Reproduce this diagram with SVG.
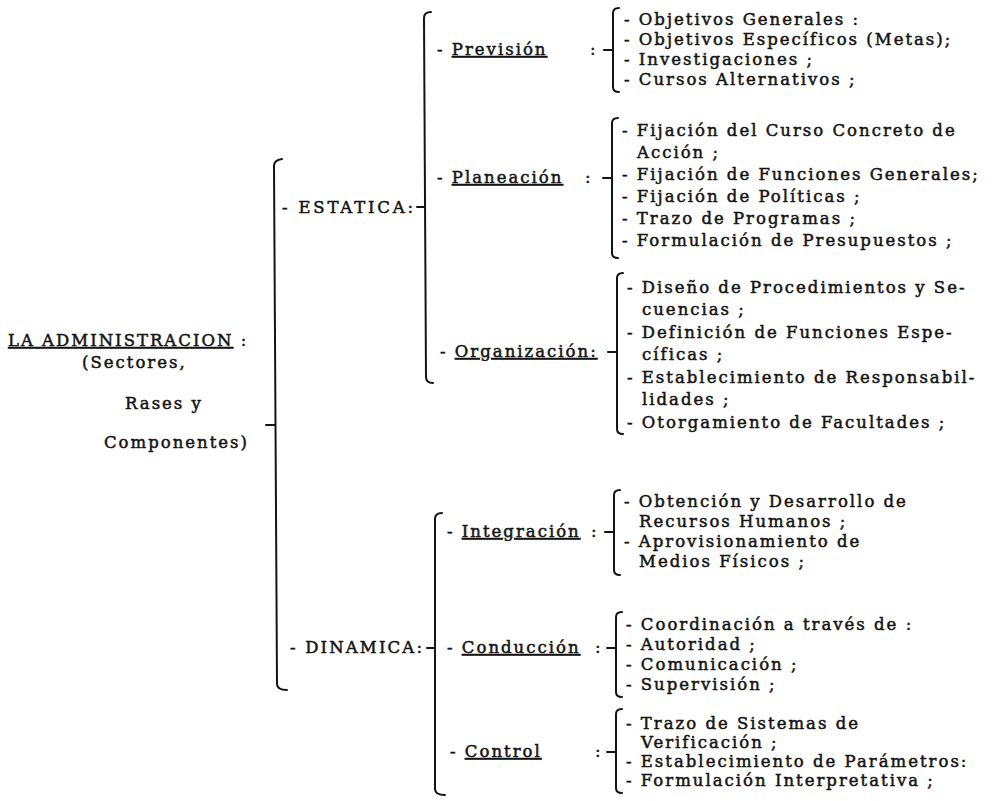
<svg xmlns="http://www.w3.org/2000/svg" width="998" height="801" viewBox="0 0 998 801">
<style>
.t{font-family:"DejaVu Serif",serif;font-size:16.5px;letter-spacing:2px;fill:#141414;stroke:#141414;stroke-width:0.5px}
.u{text-decoration:underline;text-decoration-thickness:1.6px;text-underline-offset:3px}
.b{fill:none;stroke:#141414;stroke-width:2;stroke-linecap:round;stroke-linejoin:round}
</style>
<rect width="998" height="801" fill="#ffffff"/>
<g id="connectors">
<path class="b" d="M282,159 Q274,160 274,166 L277,684 Q277,690 287,690 M275,425 L266,425"/>
<path class="b" d="M431,12 Q424,12 424,18 L426,377 Q426,383 433,383 M425,207 L417,207"/>
<path class="b" d="M442,513 Q435,513 435,519 L435,789 Q435,795 445,795 M435,648 L427,648"/>
<path class="b" d="M619,8 Q613,8 613,13 L613,87 Q613,92 619,92 M613,50 L604,50"/>
<path class="b" d="M618,118 Q612,118 612,123 L612,253 Q612,258 618,258 M612,178 L603,178"/>
<path class="b" d="M623,273 Q617,273 617,278 L617,429 Q617,434 623,434 M617,352 L608,352"/>
<path class="b" d="M620,490 Q614,490 614,495 L614,570 Q614,575 620,575 M614,532 L605,532"/>
<path class="b" d="M622,612 Q616,612 616,617 L616,692 Q616,697 622,697 M616,648 L607,648"/>
<path class="b" d="M622,709 Q616,709 616,714 L616,788 Q616,793 622,793 M616,752 L607,752"/>
</g>
<g id="administracion">
<text class="t" x="8" y="346"><tspan class="u">LA ADMINISTRACION</tspan> :</text>
<text class="t" x="82" y="368">(Sectores,</text>
<text class="t" x="125" y="409">Rases  y</text>
<text class="t" x="104" y="448">Componentes)</text>
</g>
<g id="estatica">
<text class="t" x="282" y="213" textLength="133" lengthAdjust="spacing">- ESTATICA:</text>
</g>
<g id="dinamica">
<text class="t" x="290" y="653" textLength="134" lengthAdjust="spacing">- DINAMICA:</text>
</g>
<g id="prevision">
<text class="t" x="437" y="55">- <tspan class="u">Previsión</tspan></text>
<text class="t" x="590" y="55">:</text>
<text class="t" x="624" y="25">- Objetivos Generales :</text>
<text class="t" x="624" y="45">- Objetivos  Específicos (Metas);</text>
<text class="t" x="624" y="65">- Investigaciones ;</text>
<text class="t" x="624" y="85">- Cursos Alternativos ;</text>
</g>
<g id="planeacion">
<text class="t" x="437" y="183">- <tspan class="u">Planeación</tspan></text>
<text class="t" x="585" y="183">:</text>
<text class="t" x="622" y="136">- Fijación del Curso Concreto de</text>
<text class="t" x="637" y="158">Acción ;</text>
<text class="t" x="622" y="180">- Fijación de Funciones Generales;</text>
<text class="t" x="622" y="202">- Fijación de Políticas ;</text>
<text class="t" x="622" y="224">- Trazo de Programas ;</text>
<text class="t" x="622" y="246">- Formulación de Presupuestos ;</text>
</g>
<g id="organizacion">
<text class="t" x="440" y="357">- <tspan class="u">Organización:</tspan></text>
<text class="t" x="627" y="293">- Diseño de Procedimientos y Se-</text>
<text class="t" x="642" y="315">cuencias ;</text>
<text class="t" x="627" y="338">- Definición de Funciones Espe-</text>
<text class="t" x="642" y="360">cíficas ;</text>
<text class="t" x="627" y="383">- Establecimiento de Responsabil-</text>
<text class="t" x="642" y="405">lidades ;</text>
<text class="t" x="627" y="428">- Otorgamiento de Facultades ;</text>
</g>
<g id="integracion">
<text class="t" x="447" y="537">- <tspan class="u">Integración</tspan></text>
<text class="t" x="591" y="537">:</text>
<text class="t" x="624" y="507">- Obtención y Desarrollo de</text>
<text class="t" x="639" y="527">Recursos Humanos ;</text>
<text class="t" x="624" y="547">- Aprovisionamiento de</text>
<text class="t" x="639" y="567">Medios Físicos ;</text>
</g>
<g id="conduccion">
<text class="t" x="447" y="653">- <tspan class="u">Conducción</tspan></text>
<text class="t" x="595" y="653">:</text>
<text class="t" x="626" y="630">- Coordinación a través de :</text>
<text class="t" x="626" y="650">- Autoridad ;</text>
<text class="t" x="626" y="670">- Comunicación ;</text>
<text class="t" x="626" y="690">- Supervisión ;</text>
</g>
<g id="control">
<text class="t" x="450" y="757">- <tspan class="u">Control</tspan></text>
<text class="t" x="595" y="757">:</text>
<text class="t" x="626" y="729">- Trazo de Sistemas de</text>
<text class="t" x="641" y="748">Verificación ;</text>
<text class="t" x="626" y="767">- Establecimiento de Parámetros:</text>
<text class="t" x="626" y="786">- Formulación Interpretativa ;</text>
</g>
</svg>
